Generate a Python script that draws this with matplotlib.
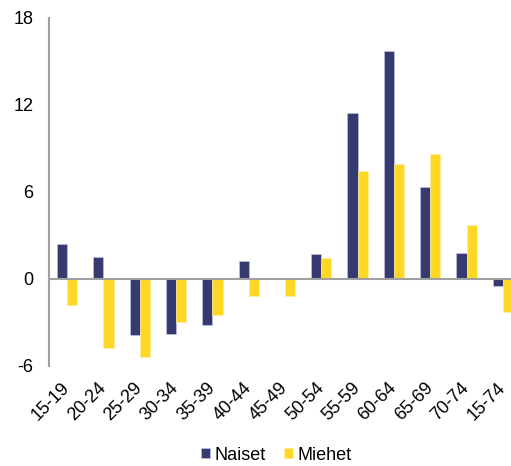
import matplotlib
matplotlib.use("Agg")
import matplotlib.pyplot as plt
import matplotlib.transforms as mtransforms
import numpy as np

plt.rcParams['font.family'] = ['Liberation Sans', 'DejaVu Sans']

categories = ["15-19", "20-24", "25-29", "30-34", "35-39", "40-44", "45-49",
              "50-54", "55-59", "60-64", "65-69", "70-74", "15-74"]
naiset = [2.4, 1.5, -3.9, -3.8, -3.2, 1.2, 0.0, 1.7, 11.4, 15.7, 6.3, 1.8, -0.5]
miehet = [-1.8, -4.8, -5.4, -3.0, -2.5, -1.2, -1.2, 1.4, 7.4, 7.9, 8.6, 3.7, -2.3]
yticks = [-6, 0, 6, 12, 18]

navy = "#353B70"
yellow = "#FFD724"
gray = "#A0A0A0"
fs = 13

fig = plt.figure(figsize=(5.11, 4.66), dpi=100)
# plot area in pixels: x 49..521, y 17.7..365.7
W, H = 511, 466
left, right = 49, 521
top, bottom = 17.7, 365.7
ax = fig.add_axes([left / W, 1 - bottom / H, (right - left) / W, (bottom - top) / H])

x = np.arange(len(categories))
bw = 0.28
ax.bar(x - bw / 2, naiset, width=bw, color=navy, label="Naiset",
       edgecolor="#C8CCE8", linewidth=0.4)
ax.bar(x + bw / 2, miehet, width=bw, color=yellow, label="Miehet",
       edgecolor="#FFF0A0", linewidth=0.4)

ax.set_xlim(-0.5, len(categories) - 0.5)
ax.set_ylim(-6, 18)
ax.set_yticks(yticks)
ax.set_yticklabels([str(t) for t in yticks], fontsize=fs)
ax.axhline(0, color=gray, linewidth=1.5, zorder=3)

for s in ["top", "right", "bottom"]:
    ax.spines[s].set_visible(False)
ax.spines["left"].set_color(gray)
ax.spines["left"].set_linewidth(1.5)
ax.tick_params(axis="y", length=0, pad=11)
ax.tick_params(axis="x", length=0, pad=10)

ax.set_xticks(x)
ax.set_xticklabels(categories, rotation=45, ha="right", va="top",
                   rotation_mode="anchor", fontsize=fs)
shift = mtransforms.ScaledTranslation(-6 / 100, 0, fig.dpi_scale_trans)
for lbl in ax.get_xticklabels():
    lbl.set_transform(lbl.get_transform() + shift)

fig.legend(loc="center", bbox_to_anchor=(276 / W, 1 - 455 / H), ncol=2,
           frameon=False, fontsize=fs, handlelength=0.5, handleheight=0.5,
           handletextpad=0.25, columnspacing=1.0)

fig.savefig("out.png", dpi=100)
